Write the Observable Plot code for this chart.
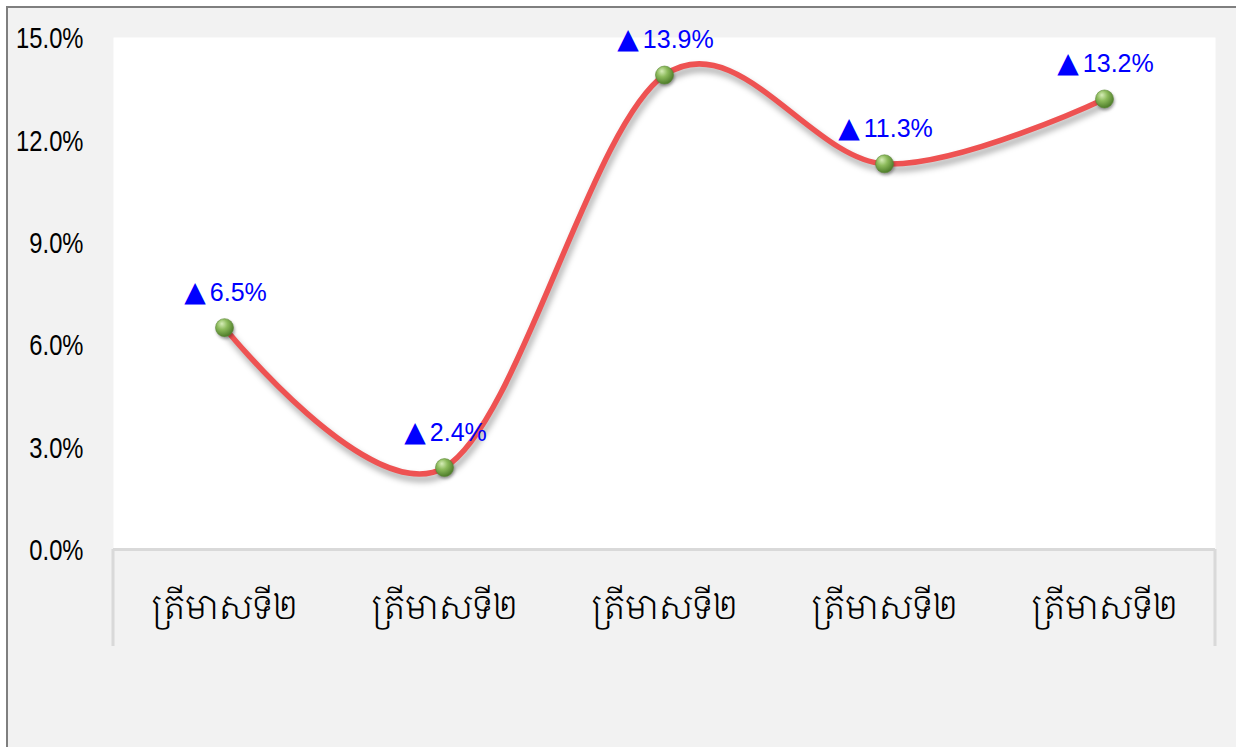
<!DOCTYPE html>
<html>
<head>
<meta charset="utf-8">
<script src="https://cdn.jsdelivr.net/npm/d3@7"></script>
<script src="https://cdn.jsdelivr.net/npm/@observablehq/plot@0.6"></script>
<style>
  html, body { margin: 0; padding: 0; background: #ffffff; overflow: hidden; }
  #bg { position: absolute; left: 6px; top: 6px; width: 1300px; height: 800px;
        background: #f2f2f2; border-left: 2px solid #7f7f7f; border-top: 2px solid #7f7f7f; }
  #chart { position: absolute; left: 0; top: 0; }
  #chart g[aria-label="line"] { filter: drop-shadow(2px 5px 3px rgba(0,0,0,0.35)); }
  #chart g[aria-label="dot"] { filter: drop-shadow(1px 2px 1.5px rgba(0,0,0,0.35)); }
</style>
</head>
<body>
<div id="bg"></div>
<div id="chart"></div>
<script>
// Data
const categories = ["ត្រីមាសទី២", "ត្រីមាសទី២", "ត្រីមាសទី២", "ត្រីមាសទី២", "ត្រីមាសទី២"];
const growth = [6.5, 2.4, 13.9, 11.3, 13.2];
const yTicks = [0, 3, 6, 9, 12, 15];

const rows = growth.map((v, i) => ({i, v, label: "▲" + v.toFixed(1) + "%"}));
const sans = "'Liberation Sans', Arial, sans-serif";

const chart = Plot.plot({
  width: 1236,
  height: 747,
  marginLeft: 113,
  marginRight: 21,
  marginTop: 37,
  marginBottom: 198,
  style: {background: "transparent", fontFamily: sans, color: "#000"},
  x: {type: "point", domain: categories.map((_, i) => i), padding: 0.5},
  y: {domain: [0, 15]},
  marks: [
    Plot.frame({fill: "white", stroke: "none"}),
    Plot.ruleY([0], {stroke: "#d9d9d9", strokeWidth: 3}),
    Plot.axisY({ticks: yTicks, tickSize: 0, tickPadding: 30, fontSize: 29, dy: 1.5,
                tickFormat: d => d.toFixed(1) + "%", label: null}),
    Plot.axisX({tickSize: 0, tickPadding: 45, fontSize: 34, label: null, fontWeight: 300,
                fontFamily: "'Khmer OS', 'Noto Serif Khmer', 'Noto Sans Khmer', 'Khmer OS System', serif",
                tickFormat: i => categories[i]}),
    Plot.line(rows, {x: "i", y: "v", stroke: "#ee5252", strokeWidth: 5.5, curve: "cardinal", tension: 0}),
    Plot.dot(rows, {x: "i", y: "v", r: 9, fill: "url(#sphere)", stroke: "#5c8a36", strokeWidth: 0.6}),
    Plot.text(rows, {x: "i", y: "v", text: "label", dy: -35, dx: 1, fill: "#0000ff", fontSize: 25})
  ]
});

const svg = d3.select(chart);

// sphere gradient for the markers
const defs = svg.insert("defs", ":first-child");
const g = defs.append("radialGradient").attr("id", "sphere")
  .attr("cx", "40%").attr("cy", "35%").attr("r", "65%").attr("fx", "35%").attr("fy", "28%");
g.append("stop").attr("offset", "0%").attr("stop-color", "#d6edb8");
g.append("stop").attr("offset", "45%").attr("stop-color", "#8dbb5c");
g.append("stop").attr("offset", "100%").attr("stop-color", "#4e7d2a");

// narrow look for the y tick labels (Arial Narrow is not available)
svg.selectAll('g[aria-label="y-axis tick label"] text').each(function() {
  const t = this.getAttribute("transform") || "";
  this.setAttribute("transform", t + " scale(0.82,1)");
});

// big triangle glyph + number inside each value label
svg.selectAll('g[aria-label="text"] text').each(function() {
  const s = this.textContent;
  const tri = s.slice(0, 1), num = s.slice(1);
  const el = d3.select(this);
  el.text(null);
  el.append("tspan").attr("font-family", "'DejaVu Sans', sans-serif").attr("font-size", 28).text(tri);
  el.append("tspan").attr("dx", 4).text(num);
});

// category-axis edge lines below the plot area
const xr = chart.scale("x").range;
const y0 = chart.scale("y").apply(0);
[xr[0], xr[1]].forEach(x => {
  svg.append("line").attr("x1", x).attr("x2", x).attr("y1", y0).attr("y2", y0 + 97)
     .attr("stroke", "#d9d9d9").attr("stroke-width", 3);
});

document.getElementById("chart").appendChild(chart);
</script>
</body>
</html>
